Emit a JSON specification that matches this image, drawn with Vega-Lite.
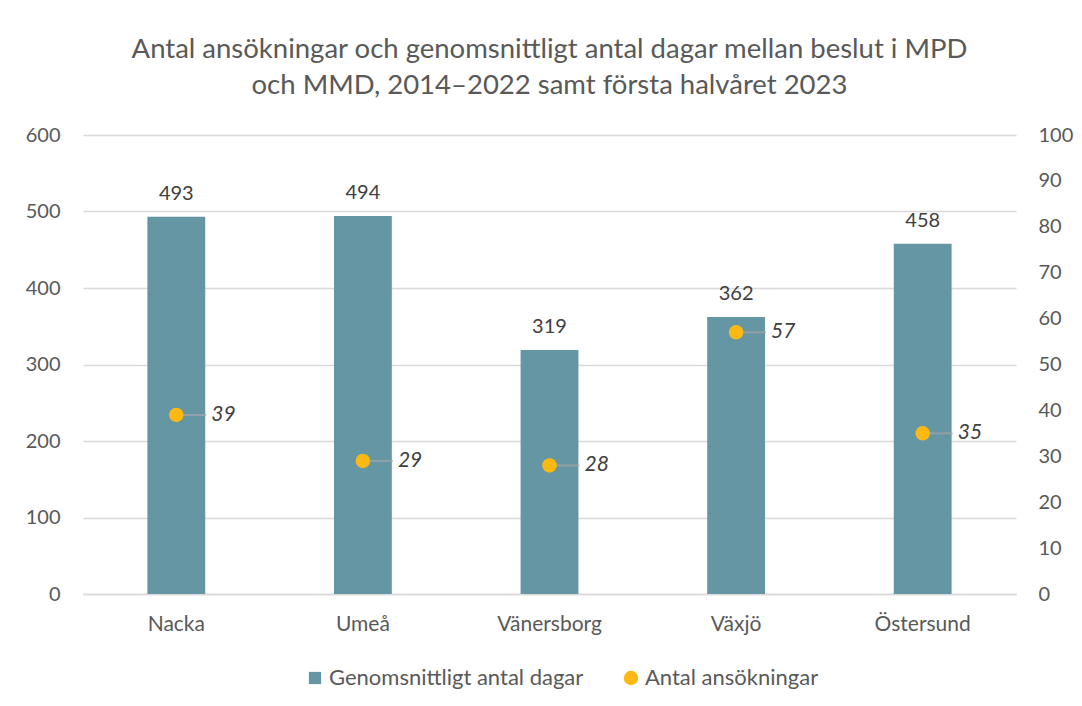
{
  "$schema": "https://vega.github.io/schema/vega-lite/v6.json",
  "autosize": "none",
  "width": 933,
  "height": 459,
  "padding": {"left": 83, "top": 135, "right": 66, "bottom": 112},
  "background": "white",
  "config": {
    "font": "Lato",
    "view": {"stroke": null},
    "axis": {"labelFont": "Lato", "labelFontSize": 20, "labelColor": "#595959", "domain": false, "ticks": false, "grid": false, "title": null},
    "legend": {"labelFont": "Lato", "labelFontSize": 22, "labelColor": "#595959", "labelLimit": 0}
  },
  "title": {
    "text": ["Antal ansökningar och genomsnittligt antal dagar mellan beslut i MPD", "och MMD, 2014–2022 samt första halvåret 2023"],
    "font": "Lato",
    "fontSize": 27.5,
    "fontWeight": "normal",
    "color": "#595959",
    "lineHeight": 36,
    "anchor": "middle",
    "offset": 26
  },
  "data": {
    "values": [
      {"kommun": "Nacka", "dagar": 493, "antal": 39},
      {"kommun": "Umeå", "dagar": 494, "antal": 29},
      {"kommun": "Vänersborg", "dagar": 319, "antal": 28},
      {"kommun": "Växjö", "dagar": 362, "antal": 57},
      {"kommun": "Östersund", "dagar": 458, "antal": 35}
    ]
  },
  "encoding": {
    "x": {
      "field": "kommun",
      "type": "nominal",
      "sort": null,
      "scale": {"paddingInner": 0.69, "paddingOuter": 0.345},
      "axis": {"labelAngle": 0, "labelPadding": 19, "labelFontSize": 21, "domain": true, "domainColor": "#D9D9D9", "domainWidth": 1.3}
    }
  },
  "layer": [
    {
      "encoding": {
        "y": {
          "field": "dagar",
          "type": "quantitative",
          "scale": {"domain": [0, 600]},
          "axis": {"orient": "left", "values": [0, 100, 200, 300, 400, 500, 600], "grid": true, "gridColor": "#D9D9D9", "gridWidth": 1.3, "labelPadding": 23}
        }
      },
      "layer": [
        {
          "mark": {"type": "bar", "color": "#6596A3"},
          "encoding": {
            "color": {
              "datum": "Genomsnittligt antal dagar",
              "type": "nominal",
              "scale": {"domain": ["Genomsnittligt antal dagar", "Antal ansökningar"], "range": ["#6596A3", "#FDB913"]},
              "legend": {
                "orient": "none",
                "direction": "horizontal",
                "legendX": 221,
                "legendY": 532,
                "title": null,
                "symbolSize": 160,
                "symbolStrokeWidth": 0,
                "symbolOpacity": 1,
                "columnPadding": 36,
                "labelOffset": 3,
                "encode": {
                  "symbols": {
                    "update": {
                      "shape": {"signal": "datum.label == 'Antal ansökningar' ? 'circle' : 'square'"},
                      "size": {"signal": "datum.label == 'Antal ansökningar' ? 210 : 150"}
                    }
                  }
                }
              }
            }
          }
        },
        {
          "mark": {"type": "text", "baseline": "alphabetic", "dy": -17, "fontSize": 20, "color": "#404040"},
          "encoding": {"text": {"field": "dagar", "type": "quantitative"}}
        }
      ]
    },
    {
      "encoding": {
        "y": {
          "field": "antal",
          "type": "quantitative",
          "scale": {"domain": [0, 100]},
          "axis": {"orient": "right", "values": [0, 10, 20, 30, 40, 50, 60, 70, 80, 90, 100], "labelPadding": 22}
        }
      },
      "layer": [
        {
          "mark": {"type": "point", "shape": "M0,0H2", "size": 900, "filled": false, "stroke": "#A6A6A6", "strokeWidth": 2}
        },
        {
          "mark": {"type": "point", "shape": "circle", "filled": true, "size": 210, "opacity": 1},
          "encoding": {
            "color": {"datum": "Antal ansökningar", "type": "nominal"}
          }
        },
        {
          "mark": {"type": "text", "align": "left", "baseline": "middle", "dx": 35, "fontSize": 21, "fontStyle": "italic", "color": "#404040"},
          "encoding": {"text": {"field": "antal", "type": "quantitative"}}
        }
      ]
    }
  ],
  "resolve": {"scale": {"y": "independent"}}
}
